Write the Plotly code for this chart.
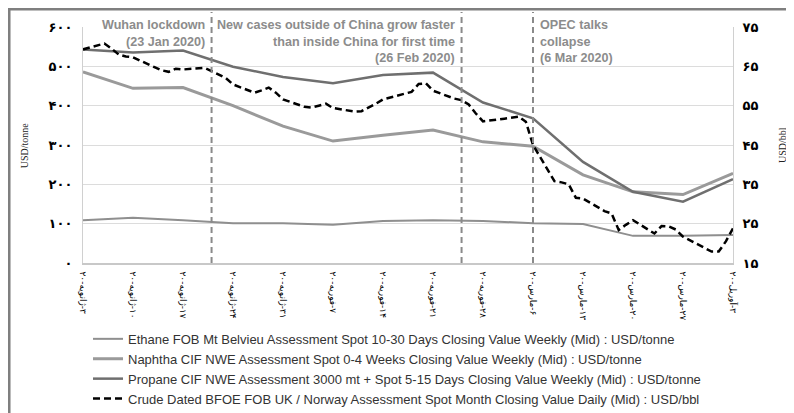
import plotly.graph_objects as go

# weekly product prices (USD/tonne)
week_dates = ["2020-01-03", "2020-01-10", "2020-01-17", "2020-01-24", "2020-01-31",
              "2020-02-07", "2020-02-14", "2020-02-21", "2020-02-28", "2020-03-06",
              "2020-03-13", "2020-03-20", "2020-03-27", "2020-04-03"]
week_labels = ["۳-ژانویه-۲۰", "۱۰-ژانویه-۲۰", "۱۷-ژانویه-۲۰", "۲۴-ژانویه-۲۰", "۳۱-ژانویه-۲۰",
               "۷-فوریه-۲۰", "۱۴-فوریه-۲۰", "۲۱-فوریه-۲۰", "۲۸-فوریه-۲۰", "۶-مارس-۲۰",
               "۱۳-مارس-۲۰", "۲۰-مارس-۲۰", "۲۷-مارس-۲۰", "۳-آوریل-۲۰"]
ethane = [109, 115, 109, 101, 101, 97, 107, 109, 107, 101, 99, 69, 69, 71]
naphtha = [486, 444, 446, 400, 348, 310, 325, 338, 308, 297, 224, 181, 174, 228]
propane = [543, 535, 540, 499, 473, 457, 478, 484, 408, 368, 257, 181, 156, 213]

# daily crude (USD/bbl)
crude_dates = ["2020-01-03", "2020-01-06", "2020-01-07", "2020-01-08", "2020-01-09", "2020-01-10",
               "2020-01-13", "2020-01-14", "2020-01-15", "2020-01-16", "2020-01-17",
               "2020-01-20", "2020-01-21", "2020-01-22", "2020-01-23", "2020-01-24",
               "2020-01-27", "2020-01-28", "2020-01-29", "2020-01-30", "2020-01-31",
               "2020-02-03", "2020-02-04", "2020-02-05", "2020-02-06", "2020-02-07",
               "2020-02-10", "2020-02-11", "2020-02-12", "2020-02-13", "2020-02-14",
               "2020-02-17", "2020-02-18", "2020-02-19", "2020-02-20", "2020-02-21",
               "2020-02-24", "2020-02-25", "2020-02-26", "2020-02-27", "2020-02-28",
               "2020-03-02", "2020-03-03", "2020-03-04", "2020-03-05", "2020-03-06",
               "2020-03-09", "2020-03-10", "2020-03-11", "2020-03-12", "2020-03-13",
               "2020-03-16", "2020-03-17", "2020-03-18", "2020-03-19", "2020-03-20",
               "2020-03-23", "2020-03-24", "2020-03-25", "2020-03-26", "2020-03-27",
               "2020-03-30", "2020-03-31", "2020-04-01", "2020-04-02", "2020-04-03"]
crude = [69.3, 70.8, 69.5, 68.0, 67.5, 67.3,
         64.8, 64.0, 63.6, 64.4, 64.2,
         64.6, 63.8, 62.9, 62.0, 60.4,
         58.3, 58.9, 59.6, 58.3, 56.6,
         54.7, 54.5, 55.0, 55.5, 54.4,
         53.5, 53.6, 54.5, 55.5, 56.6,
         58.0, 58.5, 60.5, 60.7, 58.8,
         56.8, 56.4, 55.3, 53.0, 51.0,
         51.7, 52.0, 52.2, 50.9, 45.0,
         35.8, 35.5, 35.0, 31.6, 31.4,
         28.2, 27.6, 23.4, 24.7, 25.9,
         22.5, 24.4, 24.3, 23.5, 21.7,
         19.0, 17.9, 17.9, 20.5, 23.8]

left_ticks = [0, 100, 200, 300, 400, 500, 600]
left_labels = ["۰", "۱۰۰", "۲۰۰", "۳۰۰", "۴۰۰", "۵۰۰", "۶۰۰"]
right_ticks = [15, 25, 35, 45, 55, 65, 75]
right_labels = ["۱۵", "۲۵", "۳۵", "۴۵", "۵۵", "۶۵", "۷۵"]

events = ["2020-01-21", "2020-02-25", "2020-03-06"]
event_text = [
    ["Wuhan lockdown", "(23 Jan 2020)"],
    ["New cases outside of China grow faster", "than inside China for first time", "(26 Feb 2020)"],
    ["OPEC talks", "collapse", "(6 Mar 2020)"],
]

fig = go.Figure()
fig.add_trace(go.Scatter(x=week_dates, y=ethane, mode="lines", line=dict(color="#8f8f8f", width=2),
                         name="Ethane FOB Mt Belvieu Assessment Spot 10-30 Days Closing Value Weekly (Mid) : USD/tonne"))
fig.add_trace(go.Scatter(x=week_dates, y=naphtha, mode="lines", line=dict(color="#9a9a9a", width=3),
                         name="Naphtha CIF NWE Assessment Spot 0-4 Weeks Closing Value Weekly (Mid) : USD/tonne"))
fig.add_trace(go.Scatter(x=week_dates, y=propane, mode="lines", line=dict(color="#6f6f6f", width=2.5),
                         name="Propane CIF NWE Assessment 3000 mt + Spot 5-15 Days Closing Value Weekly (Mid) : USD/tonne"))
fig.add_trace(go.Scatter(x=crude_dates, y=crude, mode="lines", yaxis="y2",
                         line=dict(color="black", width=2.5, dash="7px,4px"),
                         name="Crude Dated BFOE FOB UK / Norway Assessment Spot Month Closing Value Daily (Mid) : USD/bbl"))

for d in events:
    fig.add_shape(type="line", xref="x", yref="paper", x0=d, x1=d, y0=0, y1=1.064,
                  line=dict(color="#8a8a8a", width=2, dash="6px,4px"))

ann_font = dict(family="Liberation Sans", size=12.6, color="#8c8c8c", weight="bold")
line_y = [1.0085, 0.9364, 0.8686]
for k, (d, lines) in enumerate(zip(events, event_text)):
    right = k < 2
    for j, t in enumerate(lines):
        fig.add_annotation(x=d, xref="x", y=line_y[j], yref="paper",
                           xanchor="right" if right else "left", yanchor="middle",
                           xshift=-6 if right else 6, showarrow=False, text=t, font=ann_font,
                           bgcolor="white" if j == 0 else "rgba(0,0,0,0)", borderpad=0)

title_font = dict(family="Liberation Serif", size=10, color="#222")
fig.add_annotation(x=-0.102, xref="paper", y=0.5, yref="paper", text="USD/tonne", textangle=-90,
                   showarrow=False, font=title_font)
fig.add_annotation(x=1.087, xref="paper", y=0.5, yref="paper", text="USD/bbl", textangle=-90,
                   showarrow=False, font=title_font)

# outer frame
fig.add_shape(type="rect", xref="paper", yref="paper", x0=-0.1138, x1=1.2, y0=-0.75, y1=1.076,
              line=dict(color="#7f7f7f", width=3))

tick_font = dict(family="DejaVu Sans", size=13, color="black", weight="bold")
fig.update_layout(
    width=786, height=405,
    margin=dict(l=75, r=61, t=19, b=150, autoexpand=False),
    plot_bgcolor="white", paper_bgcolor="white",
    xaxis=dict(type="date", range=["2020-01-03", "2020-04-03"], tickvals=week_dates,
               ticktext=["\u202b" + t + "\u202c" for t in week_labels], tickangle=90,
               tickfont=dict(family="DejaVu Sans", size=9, color="black"),
               showgrid=False, showline=True, linecolor="#c8c8c8", linewidth=1.5,
               ticks="", ticklabelstandoff=5, automargin=False, zeroline=False),
    yaxis=dict(range=[0, 600], tickvals=left_ticks, ticktext=left_labels, tickfont=tick_font,
               showgrid=True, gridcolor="#dcdcdc", gridwidth=1, showline=True, linecolor="#d0d0d0",
               ticks="", ticklabelstandoff=7, automargin=False, zeroline=False),
    yaxis2=dict(range=[15, 75], tickvals=right_ticks, ticktext=right_labels, tickfont=tick_font,
                overlaying="y", side="right", showgrid=False, showline=True, linecolor="#d0d0d0",
                ticks="", ticklabelstandoff=6, automargin=False, zeroline=False),
    legend=dict(x=0.0077, y=-0.258, xanchor="left", yanchor="top", orientation="v",
                font=dict(family="Liberation Sans", size=13, color="#333"),
                bgcolor="rgba(0,0,0,0)", tracegroupgap=0, itemwidth=30),
    showlegend=True,
)

fig.write_html("out.html")
